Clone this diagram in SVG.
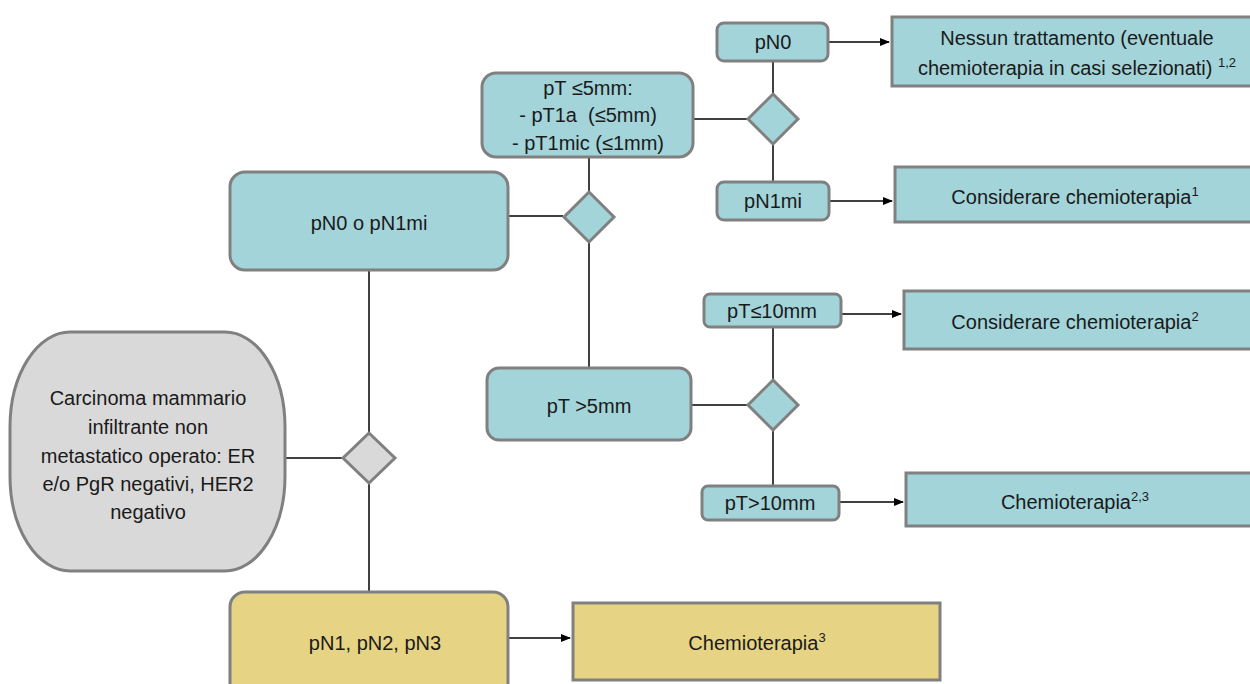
<svg xmlns="http://www.w3.org/2000/svg" width="1250" height="684" viewBox="0 0 1250 684">
<defs>
<marker id="arr" markerWidth="10" markerHeight="8" refX="9" refY="4" orient="auto" markerUnits="userSpaceOnUse">
<path d="M0,0 L10,4 L0,8 Z" fill="#000"/>
</marker>
<style>
.t{fill:#A2D4D9;stroke:#808080;stroke-width:3}
.g{fill:#D9D9D9;stroke:#808080;stroke-width:3}
.y{fill:#E6D383;stroke:#808080;stroke-width:3}
text{font-family:"Liberation Sans",Arial,sans-serif;font-size:20px;fill:#1a1a1a;text-anchor:middle}
.c line{stroke:#000;stroke-width:1.5}
.sup{font-size:13px}
</style>
</defs>
<rect width="1250" height="684" fill="#fff"/>
<g class="c">
<line x1="285" y1="458" x2="343" y2="458"/>
<line x1="369" y1="432" x2="369" y2="270"/>
<line x1="369" y1="484" x2="369" y2="592"/>
<line x1="508" y1="216" x2="563" y2="216"/>
<line x1="589" y1="191" x2="589" y2="157"/>
<line x1="589" y1="242" x2="589" y2="368"/>
<line x1="693" y1="119" x2="747" y2="119"/>
<line x1="773" y1="93" x2="773" y2="61"/>
<line x1="773" y1="145" x2="773" y2="182"/>
<line x1="691" y1="405" x2="747" y2="405"/>
<line x1="773" y1="380" x2="773" y2="327"/>
<line x1="773" y1="431" x2="773" y2="486"/>
<line x1="828" y1="42" x2="889" y2="42" marker-end="url(#arr)"/>
<line x1="829" y1="201" x2="892" y2="201" marker-end="url(#arr)"/>
<line x1="841" y1="314" x2="901" y2="314" marker-end="url(#arr)"/>
<line x1="839" y1="502" x2="903" y2="502" marker-end="url(#arr)"/>
<line x1="508" y1="638" x2="570" y2="638" marker-end="url(#arr)"/>
</g>
<g id="start">
<rect class="g" x="10" y="332" width="275" height="239" rx="60" ry="95"/>
<text x="148" y="405">Carcinoma mammario</text>
<text x="148" y="434">infiltrante non</text>
<text x="148" y="463">metastatico operato: ER</text>
<text x="148" y="491">e/o PgR negativi, HER2</text>
<text x="148" y="519">negativo</text>
</g>
<g id="d1"><path class="g" d="M369,433 L395,458 L369,483 L343,458 Z"/></g>
<g id="n0mi">
<rect class="t" x="230" y="172" width="278" height="98" rx="15"/>
<text x="369" y="230">pN0 o pN1mi</text>
</g>
<g id="d2"><path class="t" d="M589,192 L614,217 L589,242 L564,217 Z"/></g>
<g id="pt5">
<rect class="t" x="482" y="73" width="211" height="84" rx="14"/>
<text x="588" y="95">pT ≤5mm:</text>
<text x="588" y="122" xml:space="preserve">- pT1a  (≤5mm)</text>
<text x="588" y="150">- pT1mic (≤1mm)</text>
</g>
<g id="d3"><path class="t" d="M773,94 L798,119 L773,144 L748,119 Z"/></g>
<g id="pn0">
<rect class="t" x="717" y="23" width="111" height="38" rx="7"/>
<text x="773" y="49">pN0</text>
</g>
<g id="r1">
<rect class="t" x="892" y="17" width="370" height="69"/>
<text x="1077" y="45">Nessun trattamento (eventuale</text>
<text x="1077" y="75">chemioterapia in casi selezionati) <tspan class="sup" dy="-8">1,2</tspan></text>
</g>
<g id="pn1mi">
<rect class="t" x="717" y="182" width="112" height="38" rx="7"/>
<text x="773" y="208">pN1mi</text>
</g>
<g id="r2">
<rect class="t" x="895" y="167" width="370" height="55"/>
<text x="1075" y="204">Considerare chemioterapia<tspan class="sup" dy="-8">1</tspan></text>
</g>
<g id="pt5b">
<rect class="t" x="487" y="368" width="204" height="72" rx="12"/>
<text x="589" y="413">pT &gt;5mm</text>
</g>
<g id="d4"><path class="t" d="M773,380 L798,405 L773,430 L748,405 Z"/></g>
<g id="pt10">
<rect class="t" x="704" y="294" width="137" height="33" rx="6"/>
<text x="772" y="318">pT≤10mm</text>
</g>
<g id="r3">
<rect class="t" x="904" y="291" width="360" height="58"/>
<text x="1075" y="329">Considerare chemioterapia<tspan class="sup" dy="-8">2</tspan></text>
</g>
<g id="pt10b">
<rect class="t" x="702" y="486" width="137" height="34" rx="6"/>
<text x="770" y="510">pT&gt;10mm</text>
</g>
<g id="r4">
<rect class="t" x="906" y="473" width="360" height="53"/>
<text x="1075" y="509">Chemioterapia<tspan class="sup" dy="-8">2,3</tspan></text>
</g>
<g id="pn123">
<rect class="y" x="230" y="592" width="278" height="110" rx="15"/>
<text x="375" y="650">pN1, pN2, pN3</text>
</g>
<g id="r5">
<rect class="y" x="573" y="603" width="367" height="77"/>
<text x="757" y="650">Chemioterapia<tspan class="sup" dy="-8">3</tspan></text>
</g>
</svg>
